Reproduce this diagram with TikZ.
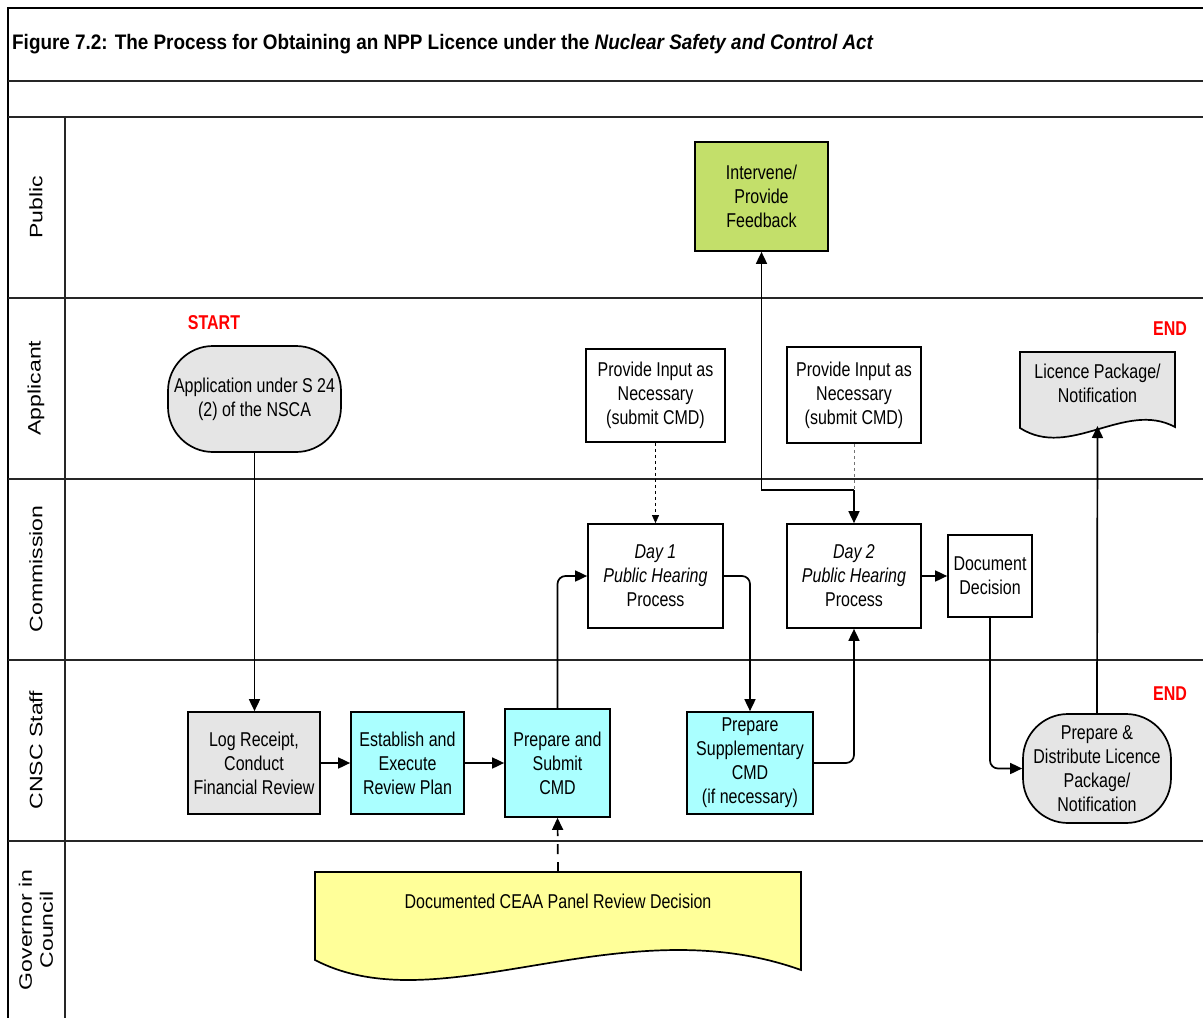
\documentclass[tikz,border=0pt]{standalone}
\usepackage{fontspec}
\setmainfont{Liberation Sans}
\newfontfamily\bodyf[FakeStretch=0.80]{Liberation Sans}
\newfontfamily\titlef[FakeStretch=0.90]{Liberation Sans}
\newfontfamily\lanef[FakeStretch=1.28]{Liberation Sans}
\usetikzlibrary{arrows.meta}
\definecolor{cyanfill}{RGB}{170,255,255}
\definecolor{grayfill}{RGB}{229,229,229}
\definecolor{greenfill}{RGB}{195,223,106}
\definecolor{yellowfill}{RGB}{255,255,153}
\definecolor{startred}{RGB}{255,0,0}
\tikzset{
  lane/.style={line width=1.3pt, black!85},
  box/.style={draw, line width=1.7pt, align=center, inner sep=0pt, font=\bodyf\fontsize{20}{24}\selectfont},
  stadium/.style={box, rounded corners=45pt, fill=grayfill},
  arr/.style={line width=1.7pt, -{Triangle[length=12pt,width=11pt]}},
  lanelabel/.style={rotate=90, font=\lanef\fontsize{18}{21}\selectfont, align=center},
  redlabel/.style={text=startred, font=\bodyf\bfseries\fontsize{20}{24}\selectfont}
}
\begin{document}
\begin{tikzpicture}[x=1pt,y=-1pt]
\useasboundingbox (0,0) rectangle (1203,1018);
% frame
\draw[line width=1.5pt] (8,1018) -- (8,8) -- (1203,8);
\foreach \yy in {81,117,298,479,660,841} \draw[lane] (8,\yy) -- (1203,\yy);
\draw[lane] (65,117) -- (65,1018);
% title
\node[anchor=west, inner sep=0pt, font=\titlef\bfseries\fontsize{21}{25}\selectfont] (title) at (12,44)
  {Figure 7.2: The Process for Obtaining an NPP Licence under the \textit{Nuclear Safety and Control Act}};
% lane labels
\node[lanelabel] (lpub) at (36,207) {Public};
\node[lanelabel] (lapp) at (36,388) {Applicant};
\node[lanelabel] (lcom) at (36,569) {Commission};
\node[lanelabel] (lstaff) at (36,750) {CNSC Staff};
\node[lanelabel] (lgov) at (36,930) {Governor in\\Council};
% red labels
\node[redlabel] (start) at (214,323) {START};
\node[redlabel] (end1) at (1170,329) {END};
\node[redlabel] (end2) at (1170,694) {END};
% nodes
\node[box, fill=greenfill, minimum width=133pt, minimum height=109pt] (interv) at (761.5,196.5) {Intervene/\\Provide\\Feedback};
\node[stadium, minimum width=173pt, minimum height=106pt] (app) at (254.5,399) {Application under S 24\\(2) of the NSCA};
\node[box, minimum width=139pt, minimum height=93pt] (prov1) at (655.5,395.5) {Provide Input as\\Necessary\\(submit CMD)};
\node[box, minimum width=134pt, minimum height=96pt] (prov2) at (854,395) {Provide Input as\\Necessary\\(submit CMD)};
\node[box, minimum width=135pt, minimum height=104pt] (day1) at (655.5,576) {\textit{Day 1}\\\textit{Public Hearing}\\Process};
\node[box, minimum width=134pt, minimum height=104pt] (day2) at (854,576) {\textit{Day 2}\\\textit{Public Hearing}\\Process};
\node[box, minimum width=84pt, minimum height=82pt] (docdec) at (990,576) {Document\\Decision};
\node[box, fill=grayfill, minimum width=132pt, minimum height=102pt] (log) at (254,763) {Log Receipt,\\Conduct\\Financial Review};
\node[box, fill=cyanfill, minimum width=113pt, minimum height=102pt] (est) at (407.5,763) {Establish and\\Execute\\Review Plan};
\node[box, fill=cyanfill, minimum width=105pt, minimum height=108pt] (prepsub) at (557.5,763) {Prepare and\\Submit\\CMD};
\node[box, fill=cyanfill, minimum width=126pt, minimum height=102pt] (prepsupp) at (750,763) {Prepare\\Supplementary\\CMD\\(if necessary)};
\node[stadium, minimum width=148pt, minimum height=109pt] (prepdist) at (1097,768.5) {Prepare \&\\Distribute Licence\\Package/\\Notification};
% licence package document shape
\draw[line width=1.7pt, fill=grayfill] (1020,352) -- (1175,352) -- (1175,427)
  .. controls (1125,400) and (1070,460) .. (1020,428) -- cycle;
\node[align=center, inner sep=0pt, font=\bodyf\fontsize{20}{24}\selectfont] (lic) at (1097.5,383) {Licence Package/\\Notification};
\coordinate (lictip) at (1097.5,426);
% CEAA document shape
\draw[line width=1.7pt, fill=yellowfill] (315,872) -- (801,872) -- (801,970)
  .. controls (620,905) and (440,1025) .. (315,960) -- cycle;
\node[inner sep=0pt, font=\bodyf\fontsize{20}{24}\selectfont] (ceaa) at (558,901) {Documented CEAA Panel Review Decision};
\coordinate (ceaatop) at (558,872);
% connectors
\draw[arr] (app.south) -- (app.south |- log.north);
\draw[arr] (log) -- (est);
\draw[arr] (est) -- (prepsub);
\draw[arr, rounded corners=8pt] (prepsub.north) |- (day1.west);
\draw[arr, rounded corners=8pt] (day1.east) -| (prepsupp.north);
\draw[arr, rounded corners=8pt] (prepsupp.east) -| (day2.south);
\draw[arr] (day2) -- (docdec);
\draw[arr, rounded corners=8pt] (docdec.south) |- (prepdist.west);
\draw[arr] (prepdist.north) -- (lictip);
\draw[line width=0.8pt, dashed, -{Triangle[length=8pt,width=7pt]}] (prov1.south) -- (day1.north);
\coordinate (junc) at (854,490);
\draw[line width=0.9pt, dashed, black!55] (prov2.south) -- (junc);
\draw[line width=1.7pt, {Triangle[length=12pt,width=11pt]}-] (interv.south) |- (junc);
\draw[arr] (junc) -- (day2.north);
\draw[arr, dash pattern=on 10pt off 8pt] (ceaatop) -- (prepsub.south);
\end{tikzpicture}
\end{document}
